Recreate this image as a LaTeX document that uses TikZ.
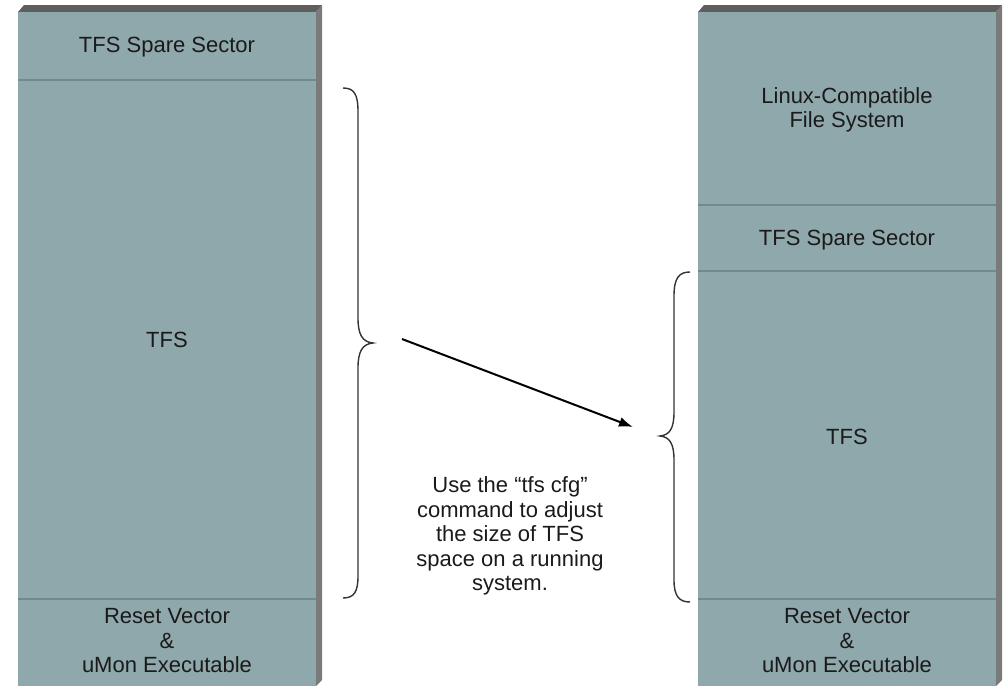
\documentclass[tikz,border=0pt]{standalone}
\usepackage{fontspec}
\setmainfont{Liberation Sans}
\usetikzlibrary{arrows.meta}
\definecolor{face}{HTML}{8FA8AC}
\definecolor{divline}{HTML}{6E8B8F}
\definecolor{shtop}{HTML}{5E5E5E}
\definecolor{shside}{HTML}{7A7A7A}
\definecolor{txt}{HTML}{1A1A1A}
\definecolor{brace}{HTML}{333333}
\tikzset{
  lbl/.style={text=txt, font=\fontsize{22}{24.5}\selectfont, align=center, inner sep=0pt},
  divider/.style={draw=divline, line width=1.2pt},
  bracestyle/.style={draw=brace, line width=1.4pt},
  arrowstyle/.style={draw=black, line width=2pt, -{Latex[length=14pt,width=10pt]}},
}
\newcommand{\membox}[2]{% left x, right x
  \fill[shtop] (#1,12) -- (#1+6,5) -- (#2+6,5) -- (#2,12) -- cycle;
  \fill[shside] (#2,12) -- (#2+6,5) -- (#2+6,680) -- (#2,686) -- cycle;
  \fill[face] (#1,12) rectangle (#2,686);
}
\begin{document}
\begin{tikzpicture}[x=1pt,y=-1pt]
\useasboundingbox (0,0) rectangle (1004,688);
% left memory map
\membox{18}{316}
\draw[divider] (18,80) -- (316,80);
\draw[divider] (18,599) -- (316,599);
\node[lbl] (lspare) at (167,47) {TFS Spare Sector};
\node[lbl] (ltfs) at (167,340) {TFS};
\node[lbl] (lreset) at (167,641) {Reset Vector\\\&\\uMon Executable};
% right memory map
\membox{698}{996}
\draw[divider] (698,205) -- (996,205);
\draw[divider] (698,271) -- (996,271);
\draw[divider] (698,599) -- (996,599);
\node[lbl] (rlinux) at (847,110) {Linux-Compatible\\File System};
\node[lbl] (rspare) at (847,240) {TFS Spare Sector};
\node[lbl] (rtfs) at (847,437) {TFS};
\node[lbl] (rreset) at (847,641) {Reset Vector\\\&\\uMon Executable};
% braces
\draw[bracestyle] (343,88) .. controls (354,88) and (358,94) .. (358,112) -- (358,318)
  .. controls (358,334) and (362,342) .. (373,343)
  .. controls (362,344) and (358,352) .. (358,368) -- (358,576)
  .. controls (358,592) and (354,598) .. (343,598);
\draw[bracestyle] (690,272) .. controls (679,272) and (674,278) .. (674,296) -- (674,412)
  .. controls (674,428) and (670,435) .. (660,436)
  .. controls (670,437) and (674,444) .. (674,460) -- (674,580)
  .. controls (674,596) and (679,602) .. (690,602);
% arrow
\coordinate (afrom) at (402,339);
\coordinate (ato) at (633,427);
\draw[arrowstyle] (afrom) -- (ato);
% note
\node[lbl] (note) at (510,536) {Use the “tfs cfg”\\command to adjust\\the size of TFS\\space on a running\\system.};
\end{tikzpicture}
\end{document}
